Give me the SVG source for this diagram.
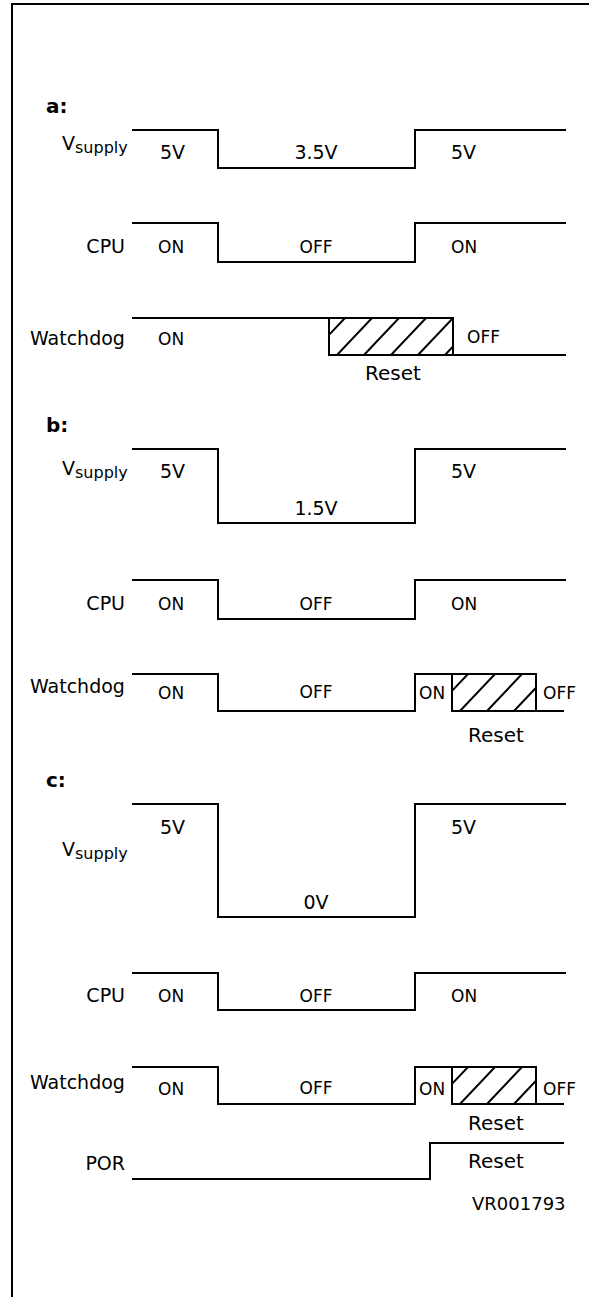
<svg xmlns="http://www.w3.org/2000/svg" width="589" height="1297" viewBox="0 0 589 1297">
<style>
  .w { fill: none; stroke: #000; stroke-width: 2; stroke-linejoin: miter; stroke-linecap: square; }
  .h { fill: none; stroke: #000; stroke-width: 2; }
  text { font-family: "DejaVu Sans", "Liberation Sans", sans-serif; fill: #000; }
  .lbl { font-size: 19px; }
  .val { font-size: 19px; }
  .st { font-size: 17px; }
  .rs { font-size: 20px; }
  .sec { font-size: 20px; font-weight: bold; }
  .sub { font-size: 16px; }
  .id { font-size: 18px; }
</style>
<defs>
  <clipPath id="boxA"><rect x="329" y="318" width="124" height="37"/></clipPath>
  <clipPath id="boxB"><rect x="452" y="674" width="84" height="37"/></clipPath>
  <clipPath id="boxC"><rect x="452" y="1067" width="84" height="37"/></clipPath>
</defs>
<rect x="0" y="0" width="589" height="1297" fill="#fff"/>
<g id="frame"><path class="w" d="M12,1297 V4 H589"/></g>

<g id="connectors">
  <!-- a -->
  <path class="w" d="M133,130 H218 V168 H415 V130 H565"/>
  <path class="w" d="M133,223 H218 V262 H415 V223 H565"/>
  <path class="w" d="M133,318 H453 V355 M329,355 V318 M329,355 H565"/>
  <!-- b -->
  <path class="w" d="M133,449 H218 V523 H415 V449 H565"/>
  <path class="w" d="M133,580 H218 V619 H415 V580 H565"/>
  <path class="w" d="M133,674 H218 V711 H415 V674 H536 V711 M452,674 V711 H563"/>
  <!-- c -->
  <path class="w" d="M133,804 H218 V917 H415 V804 H565"/>
  <path class="w" d="M133,973 H218 V1010 H415 V973 H565"/>
  <path class="w" d="M133,1067 H218 V1104 H415 V1067 H536 V1104 M452,1067 V1104 H563"/>
  <path class="w" d="M133,1179 H430 V1143 H563"/>
</g>

<g id="hatchA" clip-path="url(#boxA)">
  <path class="h" d="M310,355 L345,318 M337,355 L372,318 M364,355 L399,318 M391,355 L426,318 M418,355 L453,318 M445,355 L480,318"/>
</g>
<g id="hatchB" clip-path="url(#boxB)">
  <path class="h" d="M433,711 L468,674 M460,711 L495,674 M487,711 L522,674 M514,711 L549,674"/>
</g>
<g id="hatchC" clip-path="url(#boxC)">
  <path class="h" d="M433,1104 L468,1067 M460,1104 L495,1067 M487,1104 L522,1067 M514,1104 L549,1067"/>
</g>

<g id="section-a">
  <text class="sec" x="46" y="113">a:</text>
  <text class="lbl" x="62" y="150">V<tspan class="sub" dy="3">supply</tspan></text>
  <text class="val" x="160" y="159">5V</text>
  <text class="val" x="316" y="159" text-anchor="middle">3.5V</text>
  <text class="val" x="451" y="159">5V</text>
  <text class="lbl" x="125" y="253" text-anchor="end">CPU</text>
  <text class="st" x="158" y="253">ON</text>
  <text class="st" x="316" y="253" text-anchor="middle">OFF</text>
  <text class="st" x="451" y="253">ON</text>
  <text class="lbl" x="30" y="345">Watchdog</text>
  <text class="st" x="158" y="345">ON</text>
  <text class="st" x="467" y="343">OFF</text>
  <text class="rs" x="365" y="380">Reset</text>
</g>

<g id="section-b">
  <text class="sec" x="46" y="432">b:</text>
  <text class="lbl" x="62" y="475">V<tspan class="sub" dy="3">supply</tspan></text>
  <text class="val" x="160" y="478">5V</text>
  <text class="val" x="316" y="515" text-anchor="middle">1.5V</text>
  <text class="val" x="451" y="478">5V</text>
  <text class="lbl" x="125" y="610" text-anchor="end">CPU</text>
  <text class="st" x="158" y="610">ON</text>
  <text class="st" x="316" y="610" text-anchor="middle">OFF</text>
  <text class="st" x="451" y="610">ON</text>
  <text class="lbl" x="30" y="693">Watchdog</text>
  <text class="st" x="158" y="699">ON</text>
  <text class="st" x="316" y="698" text-anchor="middle">OFF</text>
  <text class="st" x="419" y="699">ON</text>
  <text class="st" x="543" y="699">OFF</text>
  <text class="rs" x="468" y="742">Reset</text>
</g>

<g id="section-c">
  <text class="sec" x="46" y="787">c:</text>
  <text class="lbl" x="62" y="856">V<tspan class="sub" dy="3">supply</tspan></text>
  <text class="val" x="160" y="834">5V</text>
  <text class="val" x="316" y="909" text-anchor="middle">0V</text>
  <text class="val" x="451" y="834">5V</text>
  <text class="lbl" x="125" y="1002" text-anchor="end">CPU</text>
  <text class="st" x="158" y="1002">ON</text>
  <text class="st" x="316" y="1002" text-anchor="middle">OFF</text>
  <text class="st" x="451" y="1002">ON</text>
  <text class="lbl" x="30" y="1089">Watchdog</text>
  <text class="st" x="158" y="1095">ON</text>
  <text class="st" x="316" y="1094" text-anchor="middle">OFF</text>
  <text class="st" x="419" y="1095">ON</text>
  <text class="st" x="543" y="1095">OFF</text>
  <text class="rs" x="468" y="1130">Reset</text>
  <text class="lbl" x="125" y="1170" text-anchor="end">POR</text>
  <text class="rs" x="468" y="1168">Reset</text>
  <text class="id" x="472" y="1210">VR001793</text>
</g>
</svg>
